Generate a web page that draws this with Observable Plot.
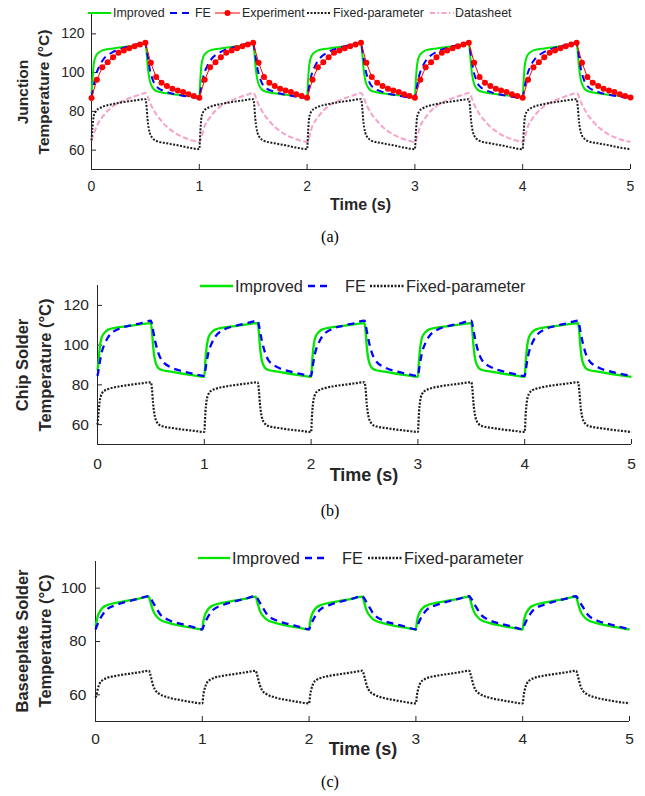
<!DOCTYPE html>
<html>
<head>
<meta charset="utf-8">
<script src="https://cdn.jsdelivr.net/npm/d3@7"></script>
<script src="https://cdn.jsdelivr.net/npm/@observablehq/plot@0.6"></script>
<style>
  html, body { margin: 0; padding: 0; background: #fff; }
  #root { position: relative; width: 645px; height: 796px; background: #fff; overflow: hidden;
          font-family: "Liberation Sans", Arial, sans-serif; color: #262626; }
  .panel { position: absolute; left: 0; }
  .ytitle { position: absolute; font-weight: bold; text-align: center; transform: rotate(-90deg); white-space: nowrap; color: #262626; }
  .xtitle { position: absolute; font-weight: bold; white-space: nowrap; transform: translate(-50%, -50%); color: #262626; }
  .cap { position: absolute; font-family: "Liberation Serif", "Times New Roman", serif; font-size: 16px; color: #000; transform: translate(-50%, -50%); }
  .legtext { position: absolute; white-space: nowrap; transform: translateY(-50%); color: #262626; }
</style>
</head>
<body>
<div id="root"></div>
<script>
// ---------------- DATA ----------------
const xTicks = [0, 1, 2, 3, 4, 5];
const yTicksJunction = [60, 80, 100, 120];
const yTicksChip = [60, 80, 100, 120];
const yTicksBase = [60, 80, 100];

// time samples of the simulated curves (s)
const tSim = [
  0, 0.01, 0.02, 0.04, 0.07, 0.1, 0.2, 0.3, 0.4, 0.5, 0.51, 0.52, 0.54, 0.57, 0.6, 0.7, 0.8, 0.9,
  1, 1.01, 1.02, 1.04, 1.07, 1.1, 1.2, 1.3, 1.4, 1.5, 1.51, 1.52, 1.54, 1.57, 1.6, 1.7, 1.8, 1.9,
  2, 2.01, 2.02, 2.04, 2.07, 2.1, 2.2, 2.3, 2.4, 2.5, 2.51, 2.52, 2.54, 2.57, 2.6, 2.7, 2.8, 2.9,
  3, 3.01, 3.02, 3.04, 3.07, 3.1, 3.2, 3.3, 3.4, 3.5, 3.51, 3.52, 3.54, 3.57, 3.6, 3.7, 3.8, 3.9,
  4, 4.01, 4.02, 4.04, 4.07, 4.1, 4.2, 4.3, 4.4, 4.5, 4.51, 4.52, 4.54, 4.57, 4.6, 4.7, 4.8, 4.9,
  5
];
// time samples of the measurement and datasheet curves (s)
const tMeas = [
  0, 0.05, 0.1, 0.15, 0.2, 0.25, 0.3, 0.35, 0.4, 0.45, 0.5, 0.55, 0.6, 0.65, 0.7, 0.75, 0.8, 0.85, 0.9, 0.95,
  1, 1.05, 1.1, 1.15, 1.2, 1.25, 1.3, 1.35, 1.4, 1.45, 1.5, 1.55, 1.6, 1.65, 1.7, 1.75, 1.8, 1.85, 1.9, 1.95,
  2, 2.05, 2.1, 2.15, 2.2, 2.25, 2.3, 2.35, 2.4, 2.45, 2.5, 2.55, 2.6, 2.65, 2.7, 2.75, 2.8, 2.85, 2.9, 2.95,
  3, 3.05, 3.1, 3.15, 3.2, 3.25, 3.3, 3.35, 3.4, 3.45, 3.5, 3.55, 3.6, 3.65, 3.7, 3.75, 3.8, 3.85, 3.9, 3.95,
  4, 4.05, 4.1, 4.15, 4.2, 4.25, 4.3, 4.35, 4.4, 4.45, 4.5, 4.55, 4.6, 4.65, 4.7, 4.75, 4.8, 4.85, 4.9, 4.95,
  5
];

// (a) Junction temperature (°C)
const junctionImproved = [
  89, 97, 104, 108.5, 110.5, 111.5, 112.5, 113.2, 114, 115, 111, 104, 96, 92, 90.5, 89.3, 88.6, 88,
  87.5, 97, 104, 108.5, 110.5, 111.5, 112.5, 113.2, 114, 115, 111, 104, 96, 92, 90.5, 89.3, 88.6, 88,
  87.5, 97, 104, 108.5, 110.5, 111.5, 112.5, 113.2, 114, 115, 111, 104, 96, 92, 90.5, 89.3, 88.6, 88,
  87.5, 97, 104, 108.5, 110.5, 111.5, 112.5, 113.2, 114, 115, 111, 104, 96, 92, 90.5, 89.3, 88.6, 88,
  87.5, 97, 104, 108.5, 110.5, 111.5, 112.5, 113.2, 114, 115, 111, 104, 96, 92, 90.5, 89.3, 88.6, 88,
  87.5
];
const junctionFE = [
  87.5, 90, 93, 98.5, 103, 106, 110.7, 112.8, 114.3, 115.5, 112.5, 109, 102, 96, 93, 90, 88.6, 87.6,
  87, 90, 93, 98.5, 103, 106, 110.7, 112.8, 114.3, 115.5, 112.5, 109, 102, 96, 93, 90, 88.6, 87.6,
  87, 90, 93, 98.5, 103, 106, 110.7, 112.8, 114.3, 115.5, 112.5, 109, 102, 96, 93, 90, 88.6, 87.6,
  87, 90, 93, 98.5, 103, 106, 110.7, 112.8, 114.3, 115.5, 112.5, 109, 102, 96, 93, 90, 88.6, 87.6,
  87, 90, 93, 98.5, 103, 106, 110.7, 112.8, 114.3, 115.5, 112.5, 109, 102, 96, 93, 90, 88.6, 87.6,
  87
];
const junctionExperiment = [
  86.9, 96.3, 102.8, 105.4, 108, 110.2, 111.4, 112.6, 113.6, 114.5, 115.4, 105.1, 97.7, 94.8, 93.1, 91.7, 90.8, 90, 88.8, 87.9,
  87, 96.3, 102.8, 105.4, 108, 110.2, 111.4, 112.6, 113.6, 114.5, 115.4, 105.1, 97.7, 94.8, 93.1, 91.7, 90.8, 90, 88.8, 87.9,
  87, 96.3, 102.8, 105.4, 108, 110.2, 111.4, 112.6, 113.6, 114.5, 115.4, 105.1, 97.7, 94.8, 93.1, 91.7, 90.8, 90, 88.8, 87.9,
  87, 96.3, 102.8, 105.4, 108, 110.2, 111.4, 112.6, 113.6, 114.5, 115.4, 105.1, 97.7, 94.8, 93.1, 91.7, 90.8, 90, 88.8, 87.9,
  87, 96.3, 102.8, 105.4, 108, 110.2, 111.4, 112.6, 113.6, 114.5, 115.4, 105.1, 97.7, 94.8, 93.1, 91.7, 90.8, 90, 88.8, 87.9,
  87.1
];
const junctionFixed = [
  65, 72, 77.5, 80, 81.5, 82.3, 83.8, 84.8, 85.6, 86.3, 83, 76, 69, 66, 64.8, 63.5, 62.5, 61.3,
  60.5, 70, 77, 80, 81.5, 82.3, 83.8, 84.8, 85.6, 86.3, 83, 76, 69, 66, 64.8, 63.5, 62.5, 61.3,
  60.5, 70, 77, 80, 81.5, 82.3, 83.8, 84.8, 85.6, 86.3, 83, 76, 69, 66, 64.8, 63.5, 62.5, 61.3,
  60.5, 70, 77, 80, 81.5, 82.3, 83.8, 84.8, 85.6, 86.3, 83, 76, 69, 66, 64.8, 63.5, 62.5, 61.3,
  60.5, 70, 77, 80, 81.5, 82.3, 83.8, 84.8, 85.6, 86.3, 83, 76, 69, 66, 64.8, 63.5, 62.5, 61.3,
  60.5
];
const junctionDatasheet = [
  65, 72.5, 77, 80.3, 82.7, 84.4, 85.7, 86.8, 87.8, 88.7, 89.5, 83.5, 78.5, 75, 72, 69.8, 68, 66.7, 65.6, 64.8,
  64.2, 72.5, 77, 80.3, 82.7, 84.4, 85.7, 86.8, 87.8, 88.7, 89.5, 83.5, 78.5, 75, 72, 69.8, 68, 66.7, 65.6, 64.8,
  64.2, 72.5, 77, 80.3, 82.7, 84.4, 85.7, 86.8, 87.8, 88.7, 89.5, 83.5, 78.5, 75, 72, 69.8, 68, 66.7, 65.6, 64.8,
  64.2, 72.5, 77, 80.3, 82.7, 84.4, 85.7, 86.8, 87.8, 88.7, 89.5, 83.5, 78.5, 75, 72, 69.8, 68, 66.7, 65.6, 64.8,
  64.2, 72.5, 77, 80.3, 82.7, 84.4, 85.7, 86.8, 87.8, 88.7, 89.5, 83.5, 78.5, 75, 72, 69.8, 68, 66.7, 65.6, 64.8,
  64.2
];

// (b) Chip solder temperature (°C)
const chipImproved = [
  87.5, 92, 98, 104, 106.5, 107.8, 109, 109.7, 110.4, 111.1, 107, 100, 92, 88.5, 87.5, 86.5, 85.6, 84.8,
  84, 92, 98, 104, 106.5, 107.8, 109, 109.7, 110.4, 111.1, 107, 100, 92, 88.5, 87.5, 86.5, 85.6, 84.8,
  84, 92, 98, 104, 106.5, 107.8, 109, 109.7, 110.4, 111.1, 107, 100, 92, 88.5, 87.5, 86.5, 85.6, 84.8,
  84, 92, 98, 104, 106.5, 107.8, 109, 109.7, 110.4, 111.1, 107, 100, 92, 88.5, 87.5, 86.5, 85.6, 84.8,
  84, 92, 98, 104, 106.5, 107.8, 109, 109.7, 110.4, 111.1, 107, 100, 92, 88.5, 87.5, 86.5, 85.6, 84.8,
  84
];
const chipFE = [
  84.5, 87.5, 91, 96.5, 101, 104, 108.2, 109.8, 111, 112.3, 110.5, 107.5, 102, 96, 92.5, 88.5, 86.8, 85.5,
  84.5, 87.5, 91, 96.5, 101, 104, 108.2, 109.8, 111, 112.3, 110.5, 107.5, 102, 96, 92.5, 88.5, 86.8, 85.5,
  84.5, 87.5, 91, 96.5, 101, 104, 108.2, 109.8, 111, 112.3, 110.5, 107.5, 102, 96, 92.5, 88.5, 86.8, 85.5,
  84.5, 87.5, 91, 96.5, 101, 104, 108.2, 109.8, 111, 112.3, 110.5, 107.5, 102, 96, 92.5, 88.5, 86.8, 85.5,
  84.5, 87.5, 91, 96.5, 101, 104, 108.2, 109.8, 111, 112.3, 110.5, 107.5, 102, 96, 92.5, 88.5, 86.8, 85.5,
  84.5
];
const chipFixed = [
  60, 66, 71.5, 75.5, 77.2, 77.9, 79.2, 80, 80.7, 81.3, 78, 71, 63.5, 60.3, 59.3, 58.3, 57.5, 56.9,
  56.3, 66, 71.5, 75.5, 77.2, 77.9, 79.2, 80, 80.7, 81.3, 78, 71, 63.5, 60.3, 59.3, 58.3, 57.5, 56.9,
  56.3, 66, 71.5, 75.5, 77.2, 77.9, 79.2, 80, 80.7, 81.3, 78, 71, 63.5, 60.3, 59.3, 58.3, 57.5, 56.9,
  56.3, 66, 71.5, 75.5, 77.2, 77.9, 79.2, 80, 80.7, 81.3, 78, 71, 63.5, 60.3, 59.3, 58.3, 57.5, 56.9,
  56.3, 66, 71.5, 75.5, 77.2, 77.9, 79.2, 80, 80.7, 81.3, 78, 71, 63.5, 60.3, 59.3, 58.3, 57.5, 56.9,
  56.3
];

// (c) Baseplate solder temperature (°C)
const baseImproved = [
  86, 87.5, 89.3, 91.2, 92.8, 93.5, 94.6, 95.3, 96, 96.8, 95.5, 94, 91.5, 89.5, 88.3, 86.8, 85.9, 85.2,
  84.5, 87.5, 89.3, 91.2, 92.8, 93.5, 94.6, 95.3, 96, 96.8, 95.5, 94, 91.5, 89.5, 88.3, 86.8, 85.9, 85.2,
  84.5, 87.5, 89.3, 91.2, 92.8, 93.5, 94.6, 95.3, 96, 96.8, 95.5, 94, 91.5, 89.5, 88.3, 86.8, 85.9, 85.2,
  84.5, 87.5, 89.3, 91.2, 92.8, 93.5, 94.6, 95.3, 96, 96.8, 95.5, 94, 91.5, 89.5, 88.3, 86.8, 85.9, 85.2,
  84.5, 87.5, 89.3, 91.2, 92.8, 93.5, 94.6, 95.3, 96, 96.8, 95.5, 94, 91.5, 89.5, 88.3, 86.8, 85.9, 85.2,
  84.5
];
const baseFE = [
  84.5, 85.5, 86.5, 88.3, 90.3, 91.8, 93.8, 95, 96, 97, 96.5, 96, 94.5, 92.5, 90.5, 87.8, 86.6, 85.6,
  84.6, 85.5, 86.5, 88.3, 90.3, 91.8, 93.8, 95, 96, 97, 96.5, 96, 94.5, 92.5, 90.5, 87.8, 86.6, 85.6,
  84.6, 85.5, 86.5, 88.3, 90.3, 91.8, 93.8, 95, 96, 97, 96.5, 96, 94.5, 92.5, 90.5, 87.8, 86.6, 85.6,
  84.6, 85.5, 86.5, 88.3, 90.3, 91.8, 93.8, 95, 96, 97, 96.5, 96, 94.5, 92.5, 90.5, 87.8, 86.6, 85.6,
  84.6, 85.5, 86.5, 88.3, 90.3, 91.8, 93.8, 95, 96, 97, 96.5, 96, 94.5, 92.5, 90.5, 87.8, 86.6, 85.6,
  84.6
];
const baseFixed = [
  59, 60, 62, 64.3, 65.6, 66.2, 67.2, 67.8, 68.4, 69, 68, 66.5, 63.5, 61.2, 60.3, 58.8, 58, 57.3,
  56.8, 60, 62, 64.3, 65.6, 66.2, 67.2, 67.8, 68.4, 69, 68, 66.5, 63.5, 61.2, 60.3, 58.8, 58, 57.3,
  56.8, 60, 62, 64.3, 65.6, 66.2, 67.2, 67.8, 68.4, 69, 68, 66.5, 63.5, 61.2, 60.3, 58.8, 58, 57.3,
  56.8, 60, 62, 64.3, 65.6, 66.2, 67.2, 67.8, 68.4, 69, 68, 66.5, 63.5, 61.2, 60.3, 58.8, 58, 57.3,
  56.8, 60, 62, 64.3, 65.6, 66.2, 67.2, 67.8, 68.4, 69, 68, 66.5, 63.5, 61.2, 60.3, 58.8, 58, 57.3,
  56.8
];

const seriesNames = ["Improved", "FE", "Experiment", "Fixed-parameter", "Datasheet"];

// ---------------- STYLES ----------------
const AX = "#262626";
const STY = {
  "Improved": {stroke: "#00e600", strokeWidth: 2, dash: null},
  "FE": {stroke: "#0000ff", strokeWidth: 2, dash: "7,5"},
  "Experiment": {stroke: "#ff0000", strokeWidth: 1, dash: null},
  "Fixed-parameter": {stroke: "#1e1e1e", strokeWidth: 2, dash: "2,1.5"},
  "Datasheet": {stroke: "#f7a2cc", strokeWidth: 2, dash: "5.5,2.5"}
};

const zip = (t, v) => t.map((x, i) => ({t: x, v: v[i]}));
const root = document.getElementById("root");

function simLine(t, v, name, sw) {
  const s = STY[name];
  return Plot.line(zip(t, v), {x: "t", y: "v", stroke: s.stroke, strokeWidth: sw ?? s.strokeWidth,
    strokeDasharray: s.dash, curve: "monotone-x", strokeLinecap: "butt"});
}

function makePanel(cfg) {
  const svg = Plot.plot({
    width: 645, height: cfg.height,
    marginLeft: cfg.ml, marginRight: cfg.mr, marginTop: cfg.mt, marginBottom: cfg.mb,
    x: {domain: [0, 5]},
    y: {domain: cfg.yDomain},
    style: {fontFamily: "'Liberation Sans', Arial, sans-serif", fontSize: cfg.tickFont + "px", color: AX, background: "transparent", overflow: "visible"},
    marks: [
      Plot.axisX({ticks: xTicks, tickSize: -5, tickPadding: cfg.xPad, label: null, tickFormat: d => String(d), stroke: AX}),
      Plot.axisY({ticks: cfg.yTicks, tickSize: -5, tickPadding: cfg.yPad, label: null, tickFormat: d => String(d), stroke: AX}),
      Plot.ruleX([0], {stroke: AX, strokeWidth: 1}),
      Plot.ruleY([cfg.yDomain[0]], {stroke: AX, strokeWidth: 1}),
      ...cfg.marks
    ]
  });
  svg.classList.add("panel");
  svg.style.top = cfg.top + "px";
  root.appendChild(svg);
}

// Panel (a)
makePanel({
  top: 0, height: 215, ml: 91, mr: 15, mt: 14, mb: 46, yDomain: [50, 130], yTicks: yTicksJunction,
  tickFont: 14, xPad: 16.5, yPad: 12,
  marks: [
    simLine(tMeas, junctionDatasheet, "Datasheet"),
    simLine(tSim, junctionFixed, "Fixed-parameter"),
    simLine(tSim, junctionImproved, "Improved"),
    simLine(tSim, junctionFE, "FE"),
    Plot.line(zip(tMeas, junctionExperiment), {x: "t", y: "v", stroke: "#ff0000", strokeWidth: 1}),
    Plot.dot(zip(tMeas, junctionExperiment), {x: "t", y: "v", r: 3, fill: "#ff0000", stroke: "none"})
  ]
});
// Panel (b)
makePanel({
  top: 270, height: 215, ml: 97, mr: 14, mt: 15, mb: 41, yDomain: [50, 130], yTicks: yTicksChip,
  tickFont: 15.5, xPad: 18, yPad: 13.5,
  marks: [
    simLine(tSim, chipFixed, "Fixed-parameter", 2.2),
    simLine(tSim, chipImproved, "Improved", 2.3),
    simLine(tSim, chipFE, "FE", 2.3)
  ]
});
// Panel (c)
makePanel({
  top: 545, height: 215, ml: 95, mr: 16, mt: 16, mb: 39, yDomain: [50, 110], yTicks: yTicksBase,
  tickFont: 15.5, xPad: 16.5, yPad: 14,
  marks: [
    simLine(tSim, baseFixed, "Fixed-parameter", 2.2),
    simLine(tSim, baseImproved, "Improved", 2.3),
    simLine(tSim, baseFE, "FE", 2.3)
  ]
});

// ---------------- TEXT / LEGENDS ----------------
function addDiv(cls, text, css) {
  const d = document.createElement("div");
  d.className = cls; d.textContent = text;
  Object.assign(d.style, css);
  root.appendChild(d);
  return d;
}
function yTitle(lines, cx, cy, fs, lh) {
  const d = document.createElement("div");
  d.className = "ytitle";
  const w = 220, h = lh * lines.length;
  Object.assign(d.style, {left: (cx - w / 2) + "px", top: (cy - h / 2) + "px", width: w + "px", height: h + "px",
    fontSize: fs + "px", lineHeight: lh + "px"});
  lines.forEach((l, i) => { if (i) d.appendChild(document.createElement("br")); d.appendChild(document.createTextNode(l)); });
  root.appendChild(d);
}
function swatch(name, x0, x1, cy, sw) {
  const s = STY[name];
  const ns = "http://www.w3.org/2000/svg";
  const svg = document.createElementNS(ns, "svg");
  svg.setAttribute("width", x1 - x0); svg.setAttribute("height", 10);
  svg.style.position = "absolute"; svg.style.left = x0 + "px"; svg.style.top = (cy - 5) + "px";
  const ln = document.createElementNS(ns, "line");
  ln.setAttribute("x1", 0); ln.setAttribute("x2", x1 - x0); ln.setAttribute("y1", 5); ln.setAttribute("y2", 5);
  ln.setAttribute("stroke", s.stroke); ln.setAttribute("stroke-width", sw ?? s.strokeWidth);
  if (s.dash) ln.setAttribute("stroke-dasharray", name === "Datasheet" ? "5,2.5,1.5,2.5" : s.dash);
  svg.appendChild(ln);
  if (name === "Experiment") {
    const c = document.createElementNS(ns, "circle");
    c.setAttribute("cx", (x1 - x0) / 2); c.setAttribute("cy", 5); c.setAttribute("r", 3); c.setAttribute("fill", "#ff0000");
    svg.appendChild(c);
  }
  root.appendChild(svg);
}
function legend(entries, cy, fs, sw) {
  entries.forEach(([name, x0, x1, tx]) => {
    swatch(name, x0, x1, cy, sw);
    addDiv("legtext", name, {left: tx + "px", top: cy + "px", fontSize: fs + "px"});
  });
}

// legend layouts: [series, swatch start, swatch end, text start]
legend([[seriesNames[0], 88, 111, 113], [seriesNames[1], 170, 190, 195], [seriesNames[2], 215, 240, 242],
        [seriesNames[3], 307, 331, 333], [seriesNames[4], 430, 454, 455]], 13, 12.4);
legend([[seriesNames[0], 200, 233, 235], [seriesNames[1], 308, 330, 345], [seriesNames[3], 370, 404, 406]], 285.5, 16.3, 2.3);
legend([[seriesNames[0], 198, 230, 232], [seriesNames[1], 305, 328, 342], [seriesNames[3], 368, 402, 404]], 558, 16.3, 2.3);

// axis titles
yTitle(["Junction", "Temperature (°C)"], 32.5, 91.5, 15.5, 21);
yTitle(["Chip Solder", "Temperature (°C)"], 33.5, 364.5, 16.5, 23);
yTitle(["Baseeplate Solder", "Temperature (°C)"], 33.5, 640.5, 16.5, 23);
addDiv("xtitle", "Time (s)", {left: "360.5px", top: "205px", fontSize: "16px"});
addDiv("xtitle", "Time (s)", {left: "364px", top: "475px", fontSize: "18px"});
addDiv("xtitle", "Time (s)", {left: "363px", top: "749px", fontSize: "18px"});

// captions
addDiv("cap", "(a)", {left: "330px", top: "237px"});
addDiv("cap", "(b)", {left: "330px", top: "511px"});
addDiv("cap", "(c)", {left: "330px", top: "782px"});
</script>
</body>
</html>
